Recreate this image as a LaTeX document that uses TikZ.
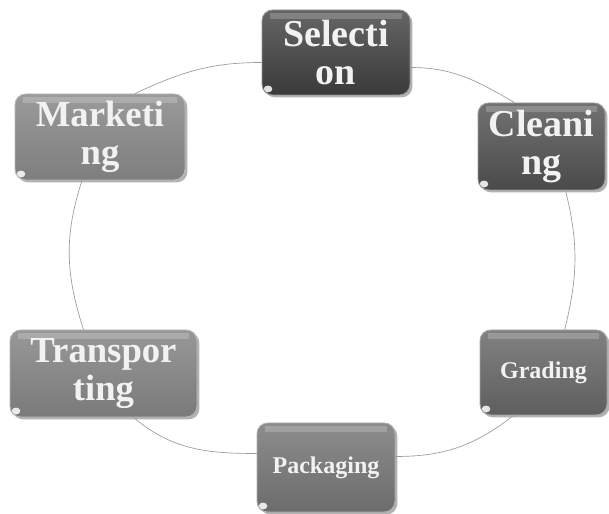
\documentclass[tikz,border=0pt]{standalone}
\usepackage{fontspec}
\setmainfont{Liberation Serif}
\usetikzlibrary{calc,shadows}
\definecolor{cSel}{HTML}{3A3A3A}
\definecolor{cCln}{HTML}{4A4A4A}
\definecolor{cGrd}{HTML}{5E5E5E}
\definecolor{cPkg}{HTML}{6C6C6C}
\definecolor{cTrn}{HTML}{7A7A7A}
\definecolor{cMkt}{HTML}{7E7E7E}
\definecolor{linkgray}{HTML}{9A9A9A}
\begin{document}
\begin{tikzpicture}[x=0.75pt,y=0.75pt,
  box/.style={rounded corners=8pt, draw=#1!55!white, line width=0.7pt,
    top color=#1!78!white, bottom color=#1, text=white!95!black,
    align=center, inner sep=0pt,
    font=\bfseries\fontsize{27.5pt}{28pt}\selectfont,
    drop shadow={shadow xshift=1.8pt, shadow yshift=-1.8pt, opacity=0.3, fill=black},
    path picture={
      \fill[white,opacity=0.2,sharp corners] ([xshift=6pt,yshift=-2.5pt]path picture bounding box.north west) rectangle ([xshift=-6pt,yshift=-6.5pt]path picture bounding box.north east);
      \fill[white,opacity=0.85] ([xshift=4.5pt,yshift=4.5pt]path picture bounding box.south west) ellipse (3.2pt and 2.6pt);
    }},
  fs/.style={font=\bfseries\fontsize{#1}{28pt}\selectfont},
  small/.style={font=\bfseries\fontsize{18pt}{19pt}\selectfont},
  link/.style={draw=linkgray, line width=0.5pt}
]
\useasboundingbox (0,0) rectangle (609,513);

\node[box=cSel, fs=28.5pt, minimum width=111pt, minimum height=63.75pt] (sel) at (336,460.5) {Selecti\\on};
\node[box=cCln, fs=28.5pt, minimum width=95.25pt, minimum height=65.25pt] (cln) at (541.5,366.5) {Cleani\\ng};
\node[box=cGrd, small, minimum width=95.25pt, minimum height=63.75pt] (grd) at (543.5,140.5) {Grading};
\node[box=cPkg, small, minimum width=103.5pt, minimum height=66.75pt] (pkg) at (326,45.5) {Packaging};
\node[box=cTrn, fs=27.5pt, minimum width=140.25pt, minimum height=65.25pt] (trn) at (103.5,139.5) {Transpor\\ting};
\node[box=cMkt, fs=27.5pt, minimum width=127.5pt, minimum height=64.5pt] (mkt) at (100,376) {Marketi\\ng};

\draw[link] ($(sel.east)+(0,-15)$) to[out=0,in=150] ($(cln.north)+(-27,0)$);
\draw[link] ($(cln.south)+(24,0)$) to[out=-76,in=76] ($(grd.south)+(21,85)$);
\draw[link] ($(grd.south)+(-30,0)$) to[out=-142,in=0] ($(pkg.east)+(0,11)$);
\draw[link] ($(pkg.west)+(0,14)$) to[out=180,in=-40] ($(trn.south)+(30,0)$);
\draw[link] ($(trn.north)+(-20,0)$) to[out=108,in=-108] ($(mkt.south)+(-18,0)$);
\draw[link] ($(mkt.north)+(35,0)$) to[out=25,in=180] ($(sel.west)+(0,-10)$);
\end{tikzpicture}
\end{document}
